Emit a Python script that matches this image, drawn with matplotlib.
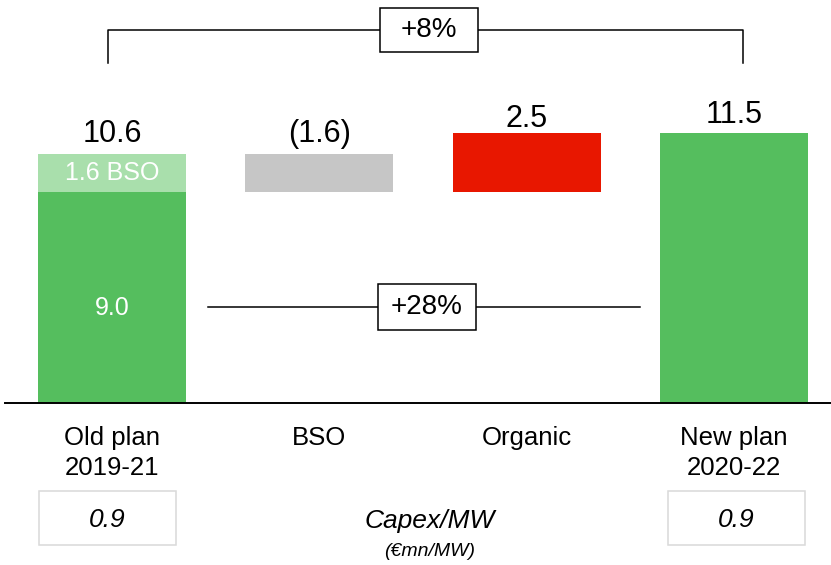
import matplotlib
matplotlib.use("Agg")
import matplotlib.pyplot as plt
from matplotlib.patches import Rectangle

plt.rcParams['font.family'] = ['Liberation Sans', 'DejaVu Sans']

categories = ['Old plan\n2019-21', 'BSO', 'Organic', 'New plan\n2020-22']
old_base = 9.0
old_bso = 1.6
bso_change = -1.6
organic_change = 2.5
new_total = 11.5
value_labels = ['10.6', '(1.6)', '2.5', '11.5']
capex_old = '0.9'
capex_new = '0.9'
growth_total = '+8%'
growth_organic = '+28%'

GREEN = '#55be5e'
LIGHT_GREEN = '#a9dfac'
GREY = '#c6c6c6'
RED = '#e81700'

# pixel helpers (figure is 831x565, origin at top left)
X0, DX = 112, 207.33
Y0, DY = 403, 23.5


def px_x(p):
    return (p - X0) / DX


def px_y(p):
    return (Y0 - p) / DY


fig = plt.figure(figsize=(8.31, 5.65), dpi=100)
ax = fig.add_axes([0, 0, 1, 1])
ax.set_xlim(px_x(0), px_x(831))
ax.set_ylim(px_y(565), px_y(0))
ax.axis('off')

w = 148 / DX
x = list(range(len(categories)))
old_total = old_base + old_bso

# bars
ax.bar(x[0], old_base, width=w, color=GREEN)
ax.bar(x[0], old_bso, bottom=old_base, width=w, color=LIGHT_GREEN)
ax.bar(x[1], -bso_change, bottom=old_total + bso_change, width=w, color=GREY)
mid = old_total + bso_change
ax.bar(x[2], organic_change, bottom=mid, width=w, color=RED)
ax.bar(x[3], new_total, width=w, color=GREEN)

# value labels
tops = [old_total, old_total, mid + organic_change, new_total]
offs = [12, 12, 6, 10]
for xi, top, lab, o in zip(x, tops, value_labels, offs):
    ax.text(xi, top + o / DY, lab, ha='center', va='baseline', fontsize=22)

ax.text(x[0], old_base + old_bso / 2, '1.6 BSO', ha='center', va='center',
        fontsize=18, color='white')
ax.text(x[0], px_y(308), '9.0', ha='center', va='center', fontsize=18,
        color='white')

# baseline
ax.plot([px_x(5), px_x(831)], [0, 0], color='black', lw=1.4)

# category labels
for xi, cat in zip(x, categories):
    ax.text(xi, px_y(426), cat, ha='center', va='top', fontsize=18.5,
            linespacing=1.3)

# +28% line and box
ax.plot([px_x(208), px_x(640)], [px_y(307), px_y(307)], color='black', lw=1.1)
ax.add_patch(Rectangle((px_x(378), px_y(330)), 98 / DX, 46 / DY,
                       facecolor='white', edgecolor='black', lw=1.1, zorder=3))
ax.text(px_x(427), px_y(307), growth_organic, ha='center', va='center',
        fontsize=20, zorder=4)

# +8% bracket and box
ax.plot([px_x(108), px_x(108), px_x(743), px_x(743)],
        [px_y(63), px_y(30), px_y(30), px_y(63)], color='black', lw=1.1)
ax.add_patch(Rectangle((px_x(380), px_y(52)), 98 / DX, 44 / DY,
                       facecolor='white', edgecolor='black', lw=1.1, zorder=3))
ax.text(px_x(429), px_y(30), growth_total, ha='center', va='center',
        fontsize=20, zorder=4)

# capex boxes
for left, val in [(39, capex_old), (668, capex_new)]:
    ax.add_patch(Rectangle((px_x(left), px_y(545)), 137 / DX, 54 / DY,
                           facecolor='white', edgecolor='#d9d9d9', lw=1.1))
    ax.text(px_x(left + 68), px_y(520), val, ha='center', va='center',
            fontsize=19, style='italic')

ax.text(px_x(430), px_y(521), 'Capex/MW', ha='center', va='center',
        fontsize=19, style='italic')
ax.text(px_x(430), px_y(551), '(€mn/MW)', ha='center', va='center',
        fontsize=14, style='italic')

fig.savefig('out.png', dpi=100)
